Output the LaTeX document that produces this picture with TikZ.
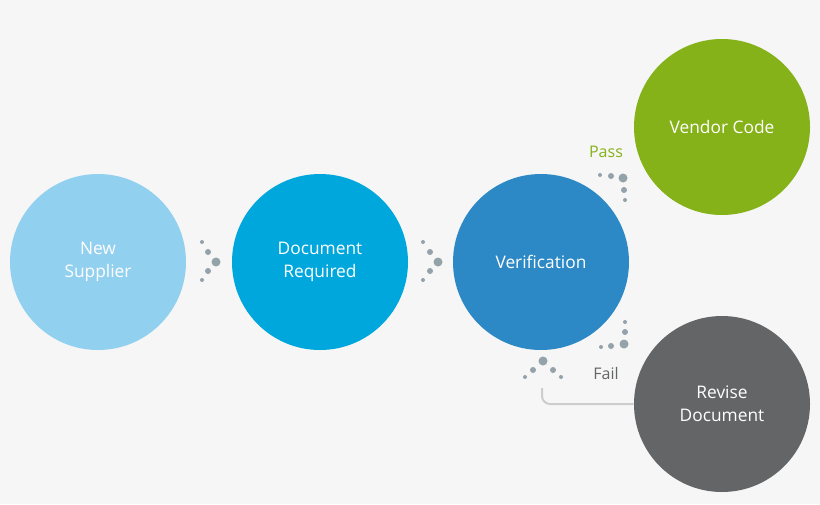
\documentclass[tikz,border=0pt]{standalone}
\usepackage{fontspec}
\setmainfont{Open Sans}
\usetikzlibrary{positioning}
\definecolor{colorbg}      {RGB}{246,246,246}
\definecolor{colornew}     {RGB}{146,208,240}
\definecolor{colordoc}     {RGB}{0  ,167,221}
\definecolor{colorverif}   {RGB}{44 ,137,197}
\definecolor{colorpass}    {RGB}{132,178,24 }
\definecolor{colorfail}    {RGB}{100,101,103}
\definecolor{colordot}     {RGB}{148,162,170}
\definecolor{colorline}    {RGB}{205,205,205}

\begin{document}
\begin{tikzpicture}[
    x=0.75pt, y=-0.75pt,
    stepnode/.style={circle,minimum size=132pt,inner sep=0pt,align=center,
        text=white,font={\fontsize{13}{17}\selectfont}},
    flowlabel/.style={font={\fontsize{12}{14}\selectfont}},
]

    \fill[colorbg] (0,0) rectangle (820,504);

    % Circles
    \node[stepnode,fill=colornew]   (supplier) at (98,262)  {New\\Supplier};
    \node[stepnode,fill=colordoc]   (document) at (320,262) {Document\\Required};
    \node[stepnode,fill=colorverif] (verif)    at (541,262) {Verification};
    \node[stepnode,fill=colorpass]  (vendor)   at (722,127) {Vendor Code};
    \node[stepnode,fill=colorfail]  (revise)   at (722,404) {Revise\\Document};

    % Labels
    \node[flowlabel,text=colorpass] (pass) at (606,152) {Pass};
    \node[flowlabel,text=colorfail] (fail) at (606,373) {Fail};

    % Dots
    \foreach \x/\y/\r in {202/242/2, 208/252/3, 216/262/4.5, 208/271/3, 202/280/2,
                          423/242/2, 430/252/3, 438/262/4.5, 430/271/3, 423/280/2,
                          600/175/2, 611/176/3, 623/178/4.5, 624/190/3, 625/200/2,
                          625/322/2, 625/332/3, 624/344/4.5, 611/346/3, 601/347/2,
                          525/377/2, 533/370/3, 543/361/4.5, 553/370/3, 561/377/2}
        \fill[colordot] (\x,\y) circle (\r*0.75pt);

    % Return line
    \coordinate (back) at (542,388);
    \coordinate (start) at (revise.west);
    \draw[colorline,line width=1.5pt,rounded corners=6pt]
        (start) -- (542,404) -- (back);

\end{tikzpicture}
\end{document}
